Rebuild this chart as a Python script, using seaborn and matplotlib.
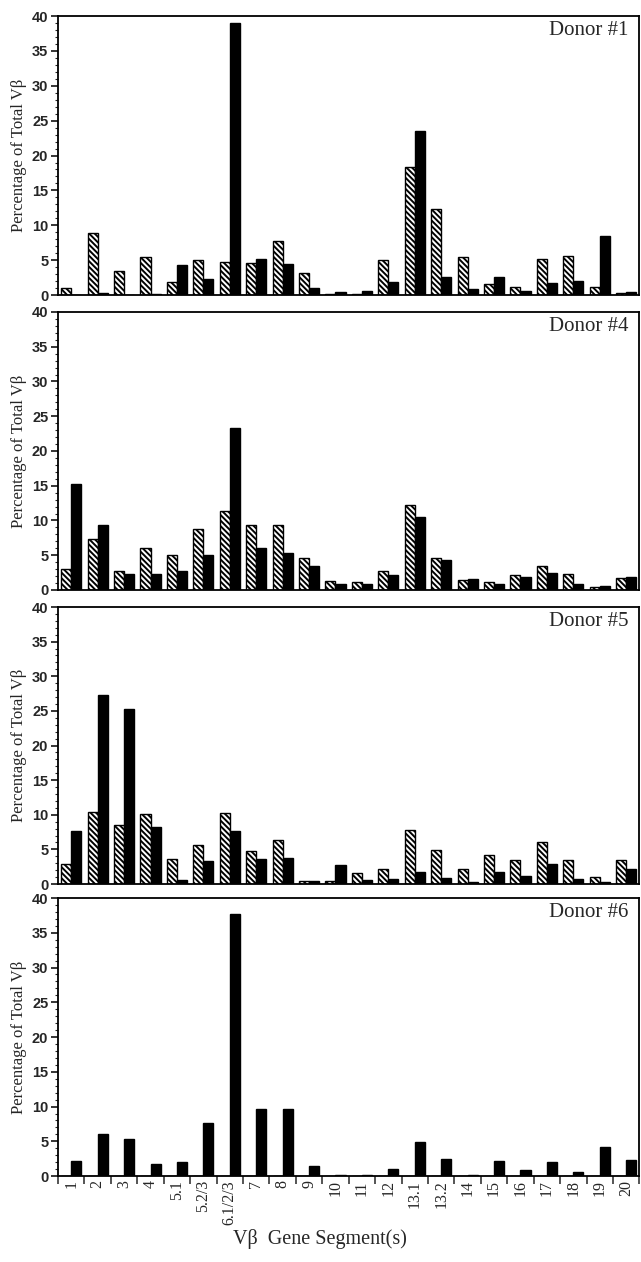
import numpy as np
import pandas as pd
import matplotlib.pyplot as plt
import seaborn as sns
from matplotlib.ticker import MultipleLocator, FixedLocator

# ── DATA ────────────────────────────────────────────────────
segments = ["1", "2", "3", "4", "5.1", "5.2/3", "6.1/2/3", "7", "8", "9", "10",
            "11", "12", "13.1", "13.2", "14", "15", "16", "17", "18", "19", "20"]

donor_names = ["Donor #1", "Donor #4", "Donor #5", "Donor #6"]

# hatched series
d1_hatched = [1.0, 8.9, 3.4, 5.5, 1.9, 5.0, 4.7, 4.6, 7.8, 3.2, 0.2,
              0.2, 5.0, 18.3, 12.4, 5.5, 1.6, 1.2, 5.2, 5.6, 1.1, 0.3]
d4_hatched = [3.0, 7.4, 2.8, 6.0, 5.0, 8.8, 11.4, 9.3, 9.3, 4.6, 1.3,
              1.2, 2.7, 12.2, 4.6, 1.4, 1.1, 2.2, 3.4, 2.3, 0.4, 1.7]
d5_hatched = [2.9, 10.4, 8.5, 10.1, 3.6, 5.6, 10.3, 4.8, 6.3, 0.5, 0.4,
              1.6, 2.2, 7.8, 4.9, 2.1, 4.2, 3.5, 6.1, 3.4, 1.0, 3.4]
d6_hatched = [0.0] * 22

# solid (black) series
d1_solid = [0.0, 0.3, 0.0, 0.1, 4.3, 2.3, 39.0, 5.2, 4.5, 1.0, 0.5,
            0.6, 1.8, 23.5, 2.6, 0.8, 2.6, 0.6, 1.7, 2.0, 8.4, 0.5]
d4_solid = [15.2, 9.4, 2.3, 2.3, 2.7, 5.1, 23.3, 6.1, 5.3, 3.4, 0.8,
            0.9, 2.2, 10.5, 4.3, 1.6, 0.8, 1.9, 2.5, 0.8, 0.6, 1.8]
d5_solid = [7.6, 27.3, 25.3, 8.3, 0.6, 3.3, 7.7, 3.6, 3.7, 0.5, 2.7,
            0.6, 0.7, 1.8, 0.8, 0.3, 1.8, 1.2, 2.9, 0.7, 0.3, 2.2]
d6_solid = [2.1, 6.1, 5.4, 1.8, 2.0, 7.7, 37.7, 9.6, 9.7, 1.4, 0.2,
            0.2, 1.0, 4.9, 2.5, 0.2, 2.1, 0.8, 2.0, 0.6, 4.2, 2.3]

hatched_all = [d1_hatched, d4_hatched, d5_hatched, d6_hatched]
solid_all = [d1_solid, d4_solid, d5_solid, d6_solid]

# ── STYLE ───────────────────────────────────────────────────
sns.set_style("ticks")
plt.rcParams["font.family"] = ["Liberation Serif", "DejaVu Serif"]
plt.rcParams["hatch.linewidth"] = 1.4
plt.rcParams["hatch.color"] = "black"

SERIF = ["Liberation Serif", "DejaVu Serif"]
SANS = ["Liberation Sans", "DejaVu Sans"]

fig = plt.figure(figsize=(6.41, 12.62), dpi=100)

# panel boxes in figure fractions: (bottom, height)
panel_rows = [(0.7662, 0.2211), (0.5325, 0.2203), (0.2995, 0.2195), (0.0681, 0.2203)]
LEFT, WIDTH = 0.0905, 0.907

for i, name in enumerate(donor_names):
    bottom, height = panel_rows[i]
    ax = fig.add_axes([LEFT, bottom, WIDTH, height])

    df = pd.DataFrame({
        "segment": segments * 2,
        "series": ["hatched"] * len(segments) + ["solid"] * len(segments),
        "pct": hatched_all[i] + solid_all[i],
    })

    sns.barplot(data=df, x="segment", y="pct", hue="series",
                order=segments, hue_order=["hatched", "solid"],
                palette={"hatched": "white", "solid": "black"},
                saturation=1, width=0.76, edgecolor="black", linewidth=1.0,
                errorbar=None, legend=False, ax=ax)

    for bar in ax.containers[0]:
        bar.set_hatch("\\\\\\\\\\\\")

    ax.set_xlim(-0.5, len(segments) - 0.5)
    ax.set_ylim(0, 40)
    ax.yaxis.set_major_locator(MultipleLocator(5))
    ax.yaxis.set_minor_locator(MultipleLocator(1))
    ax.tick_params(axis="y", which="major", direction="out", length=5, width=1.1,
                   pad=2, labelsize=10.5, color="black")
    ax.tick_params(axis="y", which="minor", direction="out", length=2.5, width=0.8)
    for lab in ax.get_yticklabels():
        lab.set_fontfamily(SANS)
        lab.set_fontweight("bold")

    for side in ["left", "right", "top", "bottom"]:
        ax.spines[side].set_visible(True)
        ax.spines[side].set_linewidth(1.3)
        ax.spines[side].set_color("black")

    ax.set_ylabel("Percentage of Total Vβ", fontsize=12, family=SERIF)
    ax.yaxis.set_label_coords(-0.054, 0.5)
    ax.set_xlabel("")

    ax.text(0.981, 0.982, name, transform=ax.transAxes, ha="right", va="top",
            fontsize=15, family=SERIF)

    if i < 3:
        ax.tick_params(axis="x", which="both", bottom=False, labelbottom=False)
    else:
        ax.tick_params(axis="x", which="major", length=0, pad=3)
        ax.set_xticks(range(len(segments)))
        ax.set_xticklabels(segments, rotation=90, fontsize=11.5, family=SERIF,
                           va="top", ha="center")
        ax.xaxis.set_minor_locator(FixedLocator(np.arange(-0.5, len(segments), 1.0)))
        ax.tick_params(axis="x", which="minor", direction="out", length=6, width=1.1)

fig.text(0.499, 0.0185, "Vβ  Gene Segment(s)", ha="center", va="center",
         fontsize=14.5, family=SERIF)

plt.savefig("out.png", dpi=100)
